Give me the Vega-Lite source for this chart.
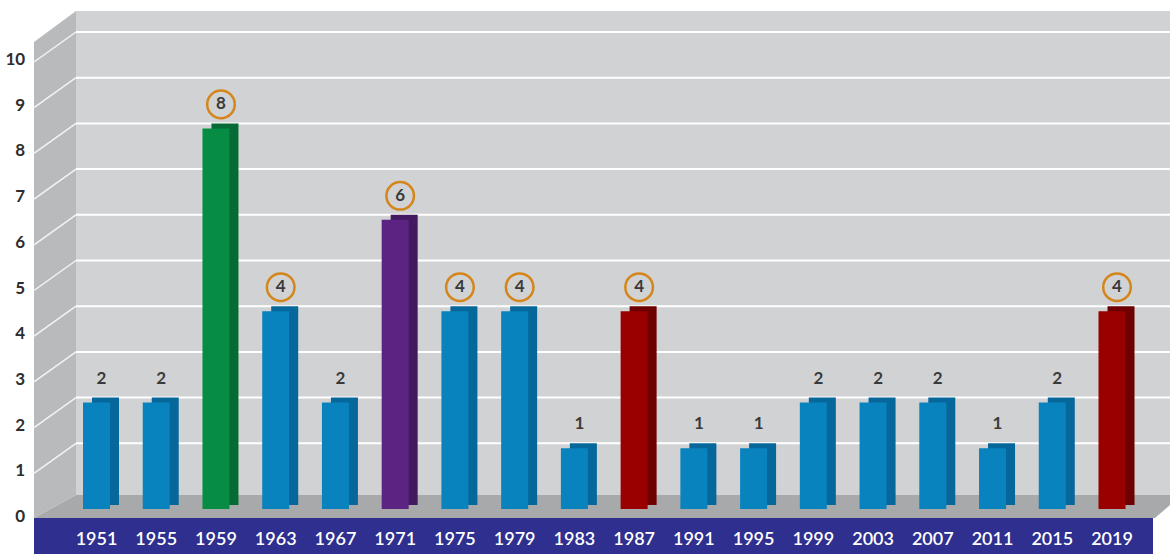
{
  "$schema": "https://vega.github.io/schema/vega-lite/v6.json",
  "width": 1170,
  "height": 554,
  "autosize": {"type": "none"},
  "padding": 0,
  "background": "#ffffff",
  "config": {"view": {"stroke": null}},
  "datasets": {
    "bars": [
      {"year": 1951, "value": 2, "group": "b"},
      {"year": 1955, "value": 2, "group": "b"},
      {"year": 1959, "value": 8, "group": "g"},
      {"year": 1963, "value": 4, "group": "b"},
      {"year": 1967, "value": 2, "group": "b"},
      {"year": 1971, "value": 6, "group": "p"},
      {"year": 1975, "value": 4, "group": "b"},
      {"year": 1979, "value": 4, "group": "b"},
      {"year": 1983, "value": 1, "group": "b"},
      {"year": 1987, "value": 4, "group": "r"},
      {"year": 1991, "value": 1, "group": "b"},
      {"year": 1995, "value": 1, "group": "b"},
      {"year": 1999, "value": 2, "group": "b"},
      {"year": 2003, "value": 2, "group": "b"},
      {"year": 2007, "value": 2, "group": "b"},
      {"year": 2011, "value": 1, "group": "b"},
      {"year": 2015, "value": 2, "group": "b"},
      {"year": 2019, "value": 4, "group": "r"}
    ],
    "levels": [
      {"level": 0}, {"level": 1}, {"level": 2}, {"level": 3}, {"level": 4}, {"level": 5},
      {"level": 6}, {"level": 7}, {"level": 8}, {"level": 9}, {"level": 10}
    ],
    "wall": [
      {"x": 1946.815, "top": 9.781, "bot": -0.635},
      {"x": 1949.627, "top": 10.46, "bot": -0.131}
    ],
    "floor": [
      {"x": 1946.815, "top": -0.635, "bot": -0.635},
      {"x": 1949.627, "top": -0.131, "bot": -0.635},
      {"x": 2021.878, "top": -0.131, "bot": -0.635},
      {"x": 2022.883, "top": -0.131, "bot": -0.35}
    ]
  },
  "resolve": {"scale": {"color": "independent"}},
  "layer": [
    {
      "data": {"name": "wall"},
      "mark": {"type": "rect", "color": "#d1d2d4"},
      "encoding": {
        "x": {"datum": 1949.627, "type": "quantitative", "scale": {"domain": [1944.538, 2022.883], "nice": false, "zero": false, "padding": 0}, "axis": null},
        "x2": {"datum": 2023.5},
        "y": {"datum": -0.131, "type": "quantitative", "scale": {"domain": [-1.422, 10.7], "nice": false, "zero": false}, "axis": null},
        "y2": {"datum": 10.46}
      }
    },
    {
      "data": {"name": "wall"},
      "mark": {"type": "area", "color": "#b9babb", "interpolate": "linear"},
      "encoding": {
        "x": {"field": "x", "type": "quantitative", "scale": {"domain": [1944.538, 2022.883], "nice": false, "zero": false, "padding": 0}, "axis": null},
        "y": {"field": "top", "type": "quantitative", "scale": {"domain": [-1.422, 10.7], "nice": false, "zero": false}, "axis": null},
        "y2": {"field": "bot"}
      }
    },
    {
      "data": {"name": "floor"},
      "mark": {"type": "area", "color": "#a8a9ab", "interpolate": "linear"},
      "encoding": {
        "x": {"field": "x", "type": "quantitative", "scale": {"domain": [1944.538, 2022.883], "nice": false, "zero": false, "padding": 0}, "axis": null},
        "y": {"field": "top", "type": "quantitative", "scale": {"domain": [-1.422, 10.7], "nice": false, "zero": false}, "axis": null},
        "y2": {"field": "bot"}
      }
    },
    {
      "data": {"name": "wall"},
      "mark": {"type": "rect", "color": "#2e2f8f"},
      "encoding": {
        "x": {"datum": 1946.815, "type": "quantitative", "scale": {"domain": [1944.538, 2022.883], "nice": false, "zero": false, "padding": 0}, "axis": null},
        "x2": {"datum": 2021.744},
        "y": {"datum": -0.635, "type": "quantitative", "scale": {"domain": [-1.422, 10.7], "nice": false, "zero": false}, "axis": null},
        "y2": {"datum": -1.5}
      }
    },
    {
      "data": {"name": "levels"},
      "transform": [{"filter": "datum.level >= 1"}],
      "mark": {"type": "rule", "color": "#ffffff", "strokeWidth": 2},
      "encoding": {
        "x": {"datum": 1949.627, "type": "quantitative", "scale": {"domain": [1944.538, 2022.883], "nice": false, "zero": false, "padding": 0}, "axis": null},
        "x2": {"datum": 2023.5},
        "y": {"field": "level", "type": "quantitative", "scale": {"domain": [-1.422, 10.7], "nice": false, "zero": false}, "axis": null}
      }
    },
    {
      "data": {"name": "levels"},
      "transform": [{"filter": "datum.level >= 1"}],
      "mark": {"type": "rule", "color": "#f4f4f4", "strokeWidth": 1.5, "y2Offset": 30},
      "encoding": {
        "x": {"datum": 1949.627, "type": "quantitative", "scale": {"domain": [1944.538, 2022.883], "nice": false, "zero": false, "padding": 0}, "axis": null},
        "x2": {"datum": 1946.815},
        "y": {"field": "level", "type": "quantitative", "scale": {"domain": [-1.422, 10.7], "nice": false, "zero": false}, "axis": null},
        "y2": {"field": "level"}
      }
    },
    {
      "data": {"name": "levels"},
      "mark": {"type": "text", "font": "Lato", "fontSize": 17, "fontWeight": "bold", "color": "#2d2d2d", "align": "right", "baseline": "middle", "yOffset": 28},
      "encoding": {
        "x": {"datum": 1946.22, "type": "quantitative", "scale": {"domain": [1944.538, 2022.883], "nice": false, "zero": false, "padding": 0}, "axis": null},
        "y": {"field": "level", "type": "quantitative", "scale": {"domain": [-1.422, 10.7], "nice": false, "zero": false}, "axis": null},
        "text": {"field": "level", "type": "quantitative", "format": "d"}
      }
    },
    {
      "data": {"name": "bars"},
      "mark": {"type": "bar", "size": 27, "xOffset": 9, "y2Offset": 16},
      "encoding": {
        "x": {"field": "year", "type": "quantitative", "scale": {"domain": [1944.538, 2022.883], "nice": false, "zero": false, "padding": 0}, "axis": null},
        "y": {"field": "value", "type": "quantitative", "scale": {"domain": [-1.422, 10.7], "nice": false, "zero": false}, "axis": null},
        "y2": {"datum": 0},
        "color": {"field": "group", "type": "nominal", "legend": null,
          "scale": {"domain": ["b", "g", "p", "r"], "range": ["#06679a", "#056a33", "#431a60", "#6d0000"]}}
      }
    },
    {
      "data": {"name": "bars"},
      "mark": {"type": "bar", "size": 27, "yOffset": 5, "y2Offset": 20},
      "encoding": {
        "x": {"field": "year", "type": "quantitative", "scale": {"domain": [1944.538, 2022.883], "nice": false, "zero": false, "padding": 0}, "axis": null},
        "y": {"field": "value", "type": "quantitative", "scale": {"domain": [-1.422, 10.7], "nice": false, "zero": false}, "axis": null},
        "y2": {"datum": 0},
        "color": {"field": "group", "type": "nominal", "legend": null,
          "scale": {"domain": ["b", "g", "p", "r"], "range": ["#0883bd", "#078c44", "#5c2382", "#990000"]}}
      }
    },
    {
      "data": {"name": "bars"},
      "transform": [{"filter": "datum.value >= 4"}],
      "mark": {"type": "point", "shape": "circle", "filled": false, "size": 760, "stroke": "#d4861a", "strokeWidth": 2.5, "opacity": 1, "xOffset": 5, "yOffset": -19},
      "encoding": {
        "x": {"field": "year", "type": "quantitative", "scale": {"domain": [1944.538, 2022.883], "nice": false, "zero": false, "padding": 0}, "axis": null},
        "y": {"field": "value", "type": "quantitative", "scale": {"domain": [-1.422, 10.7], "nice": false, "zero": false}, "axis": null}
      }
    },
    {
      "data": {"name": "bars"},
      "mark": {"type": "text", "font": "Lato", "fontSize": 17, "fontWeight": "bold", "color": "#3a3a3a", "baseline": "middle", "align": "center", "xOffset": 5, "yOffset": -19},
      "encoding": {
        "x": {"field": "year", "type": "quantitative", "scale": {"domain": [1944.538, 2022.883], "nice": false, "zero": false, "padding": 0}, "axis": null},
        "y": {"field": "value", "type": "quantitative", "scale": {"domain": [-1.422, 10.7], "nice": false, "zero": false}, "axis": null},
        "text": {"field": "value", "type": "quantitative"}
      }
    },
    {
      "data": {"name": "bars"},
      "mark": {"type": "text", "font": "Lato", "fontSize": 18, "fontWeight": 600, "color": "#ffffff", "baseline": "middle", "align": "center"},
      "encoding": {
        "x": {"field": "year", "type": "quantitative", "scale": {"domain": [1944.538, 2022.883], "nice": false, "zero": false, "padding": 0}, "axis": null},
        "y": {"datum": -1.105, "type": "quantitative", "scale": {"domain": [-1.422, 10.7], "nice": false, "zero": false}, "axis": null},
        "text": {"field": "year", "type": "quantitative", "format": "d"}
      }
    }
  ]
}
